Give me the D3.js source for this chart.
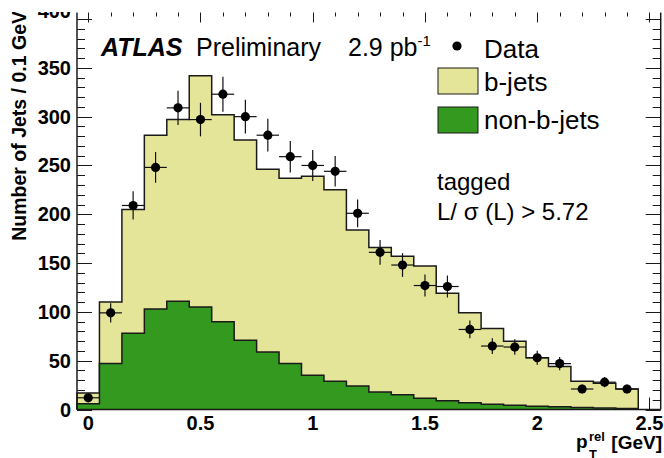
<!DOCTYPE html>
<html>
<head>
<meta charset="utf-8">
<script src="https://cdn.jsdelivr.net/npm/d3@7"></script>
<style>
  html, body { margin: 0; padding: 0; background: #fff; }
  svg { display: block; font-family: "Liberation Sans", Arial, Helvetica, sans-serif; }
</style>
</head>
<body>
<svg id="chart" width="664" height="458"></svg>
<script>
// Bin centres of p_T^rel (GeV), bin width 0.1
const binCenters = [0, 0.1, 0.2, 0.3, 0.4, 0.5, 0.6, 0.7, 0.8, 0.9, 1.0, 1.1, 1.2,
                    1.3, 1.4, 1.5, 1.6, 1.7, 1.8, 1.9, 2.0, 2.1, 2.2, 2.3, 2.4];
const binWidth = 0.1;

// Template: non-b-jets (bottom of stack)
const nonBJets = [6, 47, 78, 103, 111, 105, 90, 71, 59, 47, 35, 29, 24,
                  18, 15, 11.5, 9, 7, 5.5, 4.3, 3.3, 2.7, 2, 1.5, 1];
// Template: b-jets (stacked on top)
const bJets = [11, 63, 127, 178, 186, 237, 212, 205, 187, 190, 204, 196, 160,
               148, 142, 135.5, 110, 92, 77.5, 65.7, 49.7, 41.3, 27, 25.5, 20];
// Observed jets
const dataCounts = [12, 99, 209, 248, 309, 297, 323, 300, 281, 259, 250, 244, 201,
                    161, 148, 127, 126, 82, 65, 64, 53, 47, 21, 28, 21];

const xTicks = [0, 0.5, 1, 1.5, 2, 2.5];
const xTickLabels = ["0", "0.5", "1", "1.5", "2", "2.5"];
const yTicks = [0, 50, 100, 150, 200, 250, 300, 350, 400];

const frame = { left: 77, right: 660.7, top: 12.5, bottom: 409.5 };

const x = d3.scaleLinear().domain([-0.05, 2.55]).range([frame.left, frame.right]);
const y = d3.scaleLinear().domain([0, 406.7]).range([frame.bottom, frame.top]);

const root = d3.select("#chart");
// the canvas is trimmed along the top edge of the frame
root.append("defs").append("clipPath").attr("id", "canvasClip")
  .append("rect").attr("x", 0).attr("y", 12).attr("width", 664).attr("height", 446);
const svg = root.append("g").attr("clip-path", "url(#canvasClip)");

const colYellow = "#e5e599";
const colGreen = "#339a1f";
const colLine = "#1a1a1a";

// ---- ticks (drawn first so the filled histograms sit over them) ----
const ticks = svg.append("g").attr("stroke", colLine).attr("stroke-width", 1);
const xMinor = d3.range(0, 26).map(i => i * 0.1);
xMinor.forEach(v => {
  const major = Math.abs(v * 2 - Math.round(v * 2)) < 1e-6;
  const len = major ? 12 : 6;
  const xp = Math.round(x(v)) + 0.5;
  ticks.append("line").attr("x1", xp).attr("x2", xp)
    .attr("y1", frame.bottom).attr("y2", frame.bottom - len);
  ticks.append("line").attr("x1", xp).attr("x2", xp)
    .attr("y1", frame.top).attr("y2", frame.top + (major ? 10 : 4));
});
const yMinor = d3.range(0, 41).map(i => i * 10);
yMinor.forEach(v => {
  const major = v % 50 === 0;
  const len = major ? 15 : 8;
  const yp = Math.round(y(v)) + 0.5;
  ticks.append("line").attr("x1", frame.left).attr("x2", frame.left + len)
    .attr("y1", yp).attr("y2", yp);
  ticks.append("line").attr("x1", frame.right).attr("x2", frame.right - len)
    .attr("y1", yp).attr("y2", yp);
});

// ---- stacked histogram ----
const rows = binCenters.map((c, i) => ({ c, nonb: nonBJets[i], b: bJets[i] }));
const stacked = d3.stack().keys(["nonb", "b"])(rows);

function stepPath(series) {
  // top edge of a histogram layer as a step function
  const pts = [];
  series.forEach((d, i) => {
    const c = binCenters[i];
    pts.push([x(c - binWidth / 2), y(d[1])]);
    pts.push([x(c + binWidth / 2), y(d[1])]);
  });
  return pts;
}
function areaPath(series) {
  const top = stepPath(series);
  const base = [];
  series.forEach((d, i) => {
    const c = binCenters[i];
    base.push([x(c - binWidth / 2), y(d[0])]);
    base.push([x(c + binWidth / 2), y(d[0])]);
  });
  base.reverse();
  return "M" + top.concat(base).map(p => p.join(",")).join("L") + "Z";
}
function outlinePath(series) {
  const top = stepPath(series);
  const first = [x(binCenters[0] - binWidth / 2), y(0)];
  const last = [x(binCenters[binCenters.length - 1] + binWidth / 2), y(0)];
  return "M" + [first].concat(top, [last]).map(p => p.join(",")).join("L");
}

const hist = svg.append("g");
// total (b-jets on top of non-b-jets)
hist.append("path").attr("d", areaPath(stacked[1])).attr("fill", colYellow).attr("stroke", "none");
hist.append("path").attr("d", outlinePath(stacked[1])).attr("fill", "none")
  .attr("stroke", colLine).attr("stroke-width", 1.5);
hist.append("path").attr("d", areaPath(stacked[0])).attr("fill", colGreen).attr("stroke", "none");
hist.append("path").attr("d", outlinePath(stacked[0])).attr("fill", "none")
  .attr("stroke", colLine).attr("stroke-width", 1.5);

// ---- frame ----
const fr = svg.append("g").attr("stroke", colLine).attr("stroke-width", 1.5).attr("fill", "none");
fr.append("line").attr("x1", frame.left).attr("x2", frame.left).attr("y1", frame.top).attr("y2", frame.bottom);
fr.append("line").attr("x1", frame.right).attr("x2", frame.right).attr("y1", frame.top).attr("y2", frame.bottom);
fr.append("line").attr("x1", frame.left).attr("x2", frame.right).attr("y1", frame.bottom).attr("y2", frame.bottom);

// ---- data points with Poisson errors ----
const pts = svg.append("g");
dataCounts.forEach((n, i) => {
  const c = binCenters[i];
  const err = Math.sqrt(n);
  const yTop = Math.max(y(n + err), frame.top);
  pts.append("line").attr("x1", x(c)).attr("x2", x(c))
    .attr("y1", y(Math.max(n - err, 0))).attr("y2", yTop)
    .attr("stroke", "#111").attr("stroke-width", 1.2);
  pts.append("line").attr("x1", x(c - binWidth / 2)).attr("x2", x(c + binWidth / 2))
    .attr("y1", y(n)).attr("y2", y(n))
    .attr("stroke", "#111").attr("stroke-width", 1.2);
  pts.append("circle").attr("cx", x(c)).attr("cy", y(n)).attr("r", 4.6).attr("fill", "#000");
});

// ---- axis labels ----
const yl = svg.append("g").attr("font-weight", "bold").attr("font-size", 20).attr("fill", "#000");
yTicks.forEach((v, i) => {
  // the topmost label sits higher, against the top edge
  const dy = i === yTicks.length - 1 ? -1 : 7;
  yl.append("text").attr("x", 71).attr("y", y(v) + dy).attr("text-anchor", "end").text(v);
});
const xl = svg.append("g").attr("font-weight", "bold").attr("font-size", 20).attr("fill", "#000");
xTicks.forEach((v, i) => {
  xl.append("text").attr("x", x(v)).attr("y", 430).attr("text-anchor", "middle").text(xTickLabels[i]);
});

// y axis title
svg.append("text")
  .attr("transform", "translate(26,11) rotate(-90)")
  .attr("text-anchor", "end")
  .attr("font-weight", "bold").attr("font-size", 19.5)
  .text("Number of Jets / 0.1 GeV");

// x axis title: p_T^rel [GeV]
svg.append("text").attr("font-weight", "bold").attr("font-size", 19)
  .attr("x", 576).attr("y", 448).text("p");
svg.append("text").attr("font-weight", "bold").attr("font-size", 13)
  .attr("x", 589).attr("y", 441).text("rel");
svg.append("text").attr("font-weight", "bold").attr("font-size", 13)
  .attr("x", 589).attr("y", 459).text("T");
svg.append("text").attr("font-weight", "bold").attr("font-size", 19)
  .attr("x", 662).attr("y", 449).attr("text-anchor", "end").text("[GeV]");

// ---- ATLAS label ----
svg.append("text").attr("x", 101).attr("y", 56)
  .attr("font-weight", "bold").attr("font-style", "italic").attr("font-size", 25)
  .text("ATLAS");
svg.append("text").attr("x", 196).attr("y", 56).attr("font-size", 25).text("Preliminary");
const lumi = svg.append("text").attr("x", 348).attr("y", 56).attr("font-size", 25);
lumi.append("tspan").text("2.9 pb");
lumi.append("tspan").attr("font-size", 15).attr("dy", -10).text("-1");

// ---- legend ----
svg.append("circle").attr("cx", 457).attr("cy", 46).attr("r", 4.6).attr("fill", "#000");
svg.append("text").attr("x", 484).attr("y", 58).attr("font-size", 26).text("Data");
svg.append("rect").attr("x", 438).attr("y", 68).attr("width", 40).attr("height", 26)
  .attr("fill", colYellow).attr("stroke", colLine).attr("stroke-width", 1);
svg.append("text").attr("x", 484).attr("y", 91).attr("font-size", 26).text("b-jets");
svg.append("rect").attr("x", 438).attr("y", 107).attr("width", 40).attr("height", 26)
  .attr("fill", colGreen).attr("stroke", colLine).attr("stroke-width", 1);
svg.append("text").attr("x", 484).attr("y", 129).attr("font-size", 26).text("non-b-jets");

// ---- selection text ----
svg.append("text").attr("x", 437).attr("y", 190).attr("font-size", 24).text("tagged");
svg.append("text").attr("x", 437).attr("y", 220).attr("font-size", 24).text("L/ σ (L) > 5.72");
</script>
</body>
</html>
